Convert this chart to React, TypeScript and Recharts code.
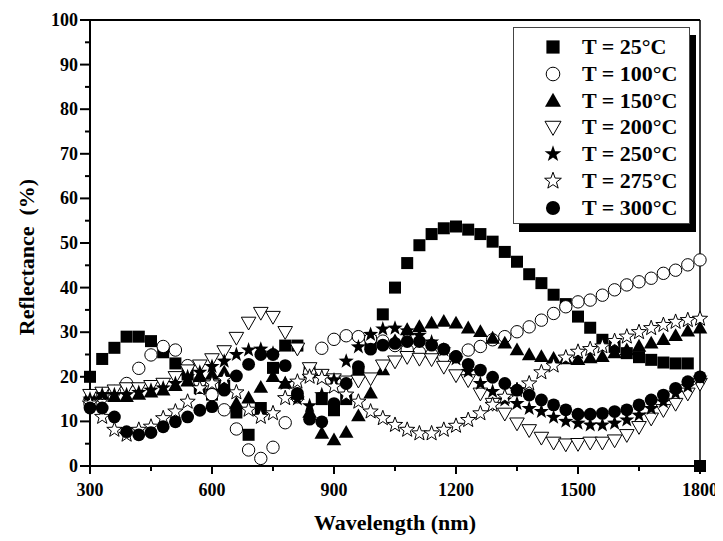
import React from 'react';
import { ScatterChart, Scatter, XAxis, YAxis, ReferenceLine } from 'recharts';

const wavelengths = [
  300, 330, 360, 390, 420, 450, 480, 510, 540, 570,
  600, 630, 660, 690, 720, 750, 780, 810, 840, 870,
  900, 930, 960, 990, 1020, 1050, 1080, 1110, 1140, 1170,
  1200, 1230, 1260, 1290, 1320, 1350, 1380, 1410, 1440, 1470,
  1500, 1530, 1560, 1590, 1620, 1650, 1680, 1710, 1740, 1770,
  1800,
];

const t25 = [
  20, 24, 26.5, 29, 29, 28, 25.5, 23, 20.5, 17.5,
  16, 18, 12, 7, 13, 22, 27, 27, 21, 15,
  12.5, 15, 21, 28, 34, 40, 45.5, 49.5, 52, 53.3,
  53.7, 53, 52, 50.3, 48, 45.8, 43, 41, 38.4, 36.3,
  33.5, 31, 28.3, 26.7, 25.3, 24.4, 23.8, 23.2, 23, 23,
  0,
];
const t100 = [
  14, 15.5, 16.7, 18.5, 21.9, 24.9, 26.8, 26, 22.5, 19,
  16, 12.6, 8.3, 3.6, 1.7, 4.2, 9.7, 15.5, 21, 26.4,
  28.4, 29.2, 29, 28.5, 28, 27, 26, 25.5, 25, 24.5,
  24.5, 26, 26.8, 28.3, 29, 30.1, 31.2, 32.7, 34.2, 35.7,
  36.8, 37.2, 38.3, 39.5, 40.6, 41.3, 42.1, 43.2, 43.9, 45.1,
  46.2,
];
const t150 = [
  16, 16, 15.5, 15.5, 16, 16.5, 17, 18, 19, 20,
  20.5, 21, 14, 15.2, 17.6, 20, 18.5, 16, 12, 7.3,
  5.8, 7.5, 11.2, 16.3, 21.5, 28, 30.5, 31.2, 32, 32.4,
  32, 30.9, 30.1, 28.6, 27.5, 26, 24.9, 24.5, 24.1, 24,
  23.8, 24.2, 24.5, 25.3, 26, 26.8, 27.5, 28.3, 29.2, 30.2,
  30.9,
];
const t200 = [
  16, 16.5, 17, 17.5, 17.5, 18, 18.5, 20, 21.5, 22.6,
  24, 25.8, 28.8, 32.2, 34.4, 33.5, 30.1, 26.4, 22, 20.5,
  19.5, 19, 19.2, 19.7, 22.6, 23.5, 24.5, 24.1, 24, 22.3,
  20.4, 19.3, 16.3, 14, 11.8, 9.6, 8.1, 6.4, 5.3, 4.9,
  5, 5.3, 5.3, 5.8, 7, 8.8, 10.7, 12.6, 14, 16.3,
  18.5,
];
const t250 = [
  15, 16, 16, 16, 16.5, 17, 17.5, 18.5, 20, 21,
  22.3, 23.5, 25, 26, 26.2, 25.3, 18.5, 15, 13.5, 16,
  19.3, 23.5, 26.7, 29.5, 30.7, 30.9, 30.3, 29.3, 27.8, 26,
  24, 21.2, 18.5, 16.7, 14.8, 14, 12.9, 12.2, 10.9, 10,
  9.6, 9.2, 9.2, 9.6, 10.3, 11.4, 12.9, 14.4, 16.3, 17.8,
  19.7,
];
const t275 = [
  14, 11, 8.1, 7, 8.1, 8.8, 10.7, 12.2, 14.4, 17.4,
  18.5, 19.5, 16.5, 12.6, 11, 11.8, 15.2, 18.9, 20, 19.7,
  17.8, 16, 14.4, 12.2, 10.7, 9.2, 8.1, 7.3, 7.3, 8.1,
  9, 10.3, 11.8, 13.7, 15.5, 17, 18.5, 21, 22.5, 24.3,
  25.6, 26.2, 26.8, 28, 29, 30, 30.9, 31.6, 32.3, 32.7,
  33,
];
const t300 = [
  13, 13, 11, 7.7, 7, 7.5, 8.8, 9.9, 11, 12.5,
  13.3, 17, 20.2, 22.8, 25, 25, 22.5, 16.3, 10.5, 9.9,
  14, 18.5, 22.3, 26.2, 27.1, 27.5, 27.9, 27.9, 27.1, 26.2,
  24.5, 22.8, 21.5, 19.9, 18.5, 17, 15.9, 14.8, 13.7, 12.6,
  11.6, 11.6, 11.8, 12.2, 12.6, 13.7, 14.8, 15.9, 17.4, 18.9,
  20,
];

const xTicks = [300, 450, 600, 750, 900, 1050, 1200, 1350, 1500, 1650, 1800];
const yTicks = [0, 5, 10, 15, 20, 25, 30, 35, 40, 45, 50, 55, 60, 65, 70, 75, 80, 85, 90, 95, 100];

type Kind = 'square' | 'circleOpen' | 'triUp' | 'triDownOpen' | 'star' | 'starOpen' | 'circle';

const seriesDefs: { name: string; values: number[]; kind: Kind }[] = [
  { name: 'T = 25°C', values: t25, kind: 'square' },
  { name: 'T = 100°C', values: t100, kind: 'circleOpen' },
  { name: 'T = 150°C', values: t150, kind: 'triUp' },
  { name: 'T = 200°C', values: t200, kind: 'triDownOpen' },
  { name: 'T = 250°C', values: t250, kind: 'star' },
  { name: 'T = 275°C', values: t275, kind: 'starOpen' },
  { name: 'T = 300°C', values: t300, kind: 'circle' },
];

const FONT = "'Liberation Serif', 'Times New Roman', serif";

const starPoints = (cx: number, cy: number, R: number, r: number) => {
  const pts: string[] = [];
  for (let i = 0; i < 10; i++) {
    const a = (-90 + i * 36) * Math.PI / 180;
    const rad = i % 2 === 0 ? R : r;
    pts.push(`${cx + rad * Math.cos(a)},${cy + rad * Math.sin(a)}`);
  }
  return pts.join(' ');
};

const Marker = ({ cx, cy, kind, s = 1 }: { cx: number; cy: number; kind: Kind; s?: number }) => {
  if (cx == null || cy == null) return null;
  switch (kind) {
    case 'square':
      return <rect x={cx - 6 * s} y={cy - 6 * s} width={12 * s} height={12 * s} fill="#000" />;
    case 'circleOpen':
      return <circle cx={cx} cy={cy} r={6.2 * s} fill="#fff" stroke="#000" strokeWidth={1} />;
    case 'circle':
      return <circle cx={cx} cy={cy} r={6.4 * s} fill="#000" />;
    case 'triUp':
      return (
        <polygon
          points={`${cx},${cy - 7.6 * s} ${cx + 7.3 * s},${cy + 5.2 * s} ${cx - 7.3 * s},${cy + 5.2 * s}`}
          fill="#000"
        />
      );
    case 'triDownOpen':
      return (
        <polygon
          points={`${cx - 7.3 * s},${cy - 5.2 * s} ${cx + 7.3 * s},${cy - 5.2 * s} ${cx},${cy + 7.6 * s}`}
          fill="#fff"
          stroke="#000"
          strokeWidth={1}
        />
      );
    case 'star':
      return <polygon points={starPoints(cx, cy, 8 * s, 3.2 * s)} fill="#000" />;
    case 'starOpen':
      return <polygon points={starPoints(cx, cy, 8 * s, 3.3 * s)} fill="#fff" stroke="#000" strokeWidth={1} />;
  }
  return null;
};

const XTick = (props: any) => {
  const { x, y, payload } = props;
  const major = payload.value % 300 === 0;
  return (
    <g>
      <line x1={x} y1={y} x2={x} y2={y + (major ? 8 : 5)} stroke="#000" strokeWidth={2} />
      {major && (
        <text x={x} y={y + 30} textAnchor="middle" fontFamily={FONT} fontWeight="bold" fontSize={18} fill="#000">
          {payload.value}
        </text>
      )}
    </g>
  );
};

const YTick = (props: any) => {
  const { x, y, payload } = props;
  const major = payload.value % 10 === 0;
  return (
    <g>
      <line x1={x - (major ? 10 : 5)} y1={y} x2={x} y2={y} stroke="#000" strokeWidth={2} />
      {major && (
        <text x={x - 12} y={y + 6} textAnchor="end" fontFamily={FONT} fontWeight="bold" fontSize={18} fill="#000">
          {payload.value}
        </text>
      )}
    </g>
  );
};

const LegendBox: React.FC = () => (
  <div
    style={{
      position: 'absolute',
      left: 505,
      top: 19,
      width: 177,
      height: 197,
      boxSizing: 'border-box',
      border: '1px solid #444',
      background: '#fff',
      boxShadow: '6px 8px 0 #000',
    }}
  >
    {seriesDefs.map((s, i) => (
      <div
        key={s.name}
        style={{ position: 'absolute', left: 0, top: 6 + i * 26.8, height: 26, display: 'flex', alignItems: 'center' }}
      >
        <svg width={24} height={24} style={{ position: 'absolute', left: 27, top: 1 }}>
          <Marker cx={12} cy={12} kind={s.kind} s={1.1} />
        </svg>
        <span
          style={{
            position: 'absolute',
            left: 68,
            top: 0,
            lineHeight: '26px',
            whiteSpace: 'nowrap',
            fontFamily: FONT,
            fontWeight: 'bold',
            fontSize: 22,
            color: '#000',
          }}
        >
          {s.name}
        </span>
      </div>
    ))}
  </div>
);

const App: React.FC = () => {
  return (
    <div style={{ position: 'relative', width: 715, height: 533 }}>
      <ScatterChart width={715} height={533} margin={{ top: 12, right: 23, bottom: 35, left: 42 }}>
        <XAxis
          type="number"
          dataKey="x"
          domain={[300, 1800]}
          ticks={xTicks}
          interval={0}
          tickSize={0}
          tickMargin={0}
          tick={XTick}
          axisLine={{ stroke: '#000', strokeWidth: 2 }}
          height={40}
          label={{
            content: () => (
              <text x={387} y={522} textAnchor="middle" fontFamily={FONT} fontWeight="bold" fontSize={22} fill="#000">
                Wavelength (nm)
              </text>
            ),
          }}
        />
        <YAxis
          type="number"
          dataKey="y"
          domain={[0, 100]}
          ticks={yTicks}
          interval={0}
          tickSize={0}
          tickMargin={0}
          tick={YTick}
          axisLine={{ stroke: '#000', strokeWidth: 2 }}
          width={40}
          label={{
            content: () => (
              <text
                x={0}
                y={0}
                transform="translate(26, 249) rotate(-90)"
                textAnchor="middle"
                fontFamily={FONT}
                fontWeight="bold"
                fontSize={22}
                fill="#000"
                style={{ whiteSpace: 'pre' }}
              >
                {'Reflectance  (%)'}
              </text>
            ),
          }}
        />
        <ReferenceLine y={100} stroke="#000" strokeWidth={2} />
        <ReferenceLine x={1800} stroke="#000" strokeWidth={1.5} />
        {seriesDefs.map((s) => (
          <Scatter
            key={s.name}
            name={s.name}
            data={wavelengths.map((w, i) => ({ x: w, y: s.values[i] }))}
            isAnimationActive={false}
            shape={(p: any) => <Marker cx={p.cx} cy={p.cy} kind={s.kind} />}
          />
        ))}
      </ScatterChart>
      <LegendBox />
    </div>
  );
};

export default App;
